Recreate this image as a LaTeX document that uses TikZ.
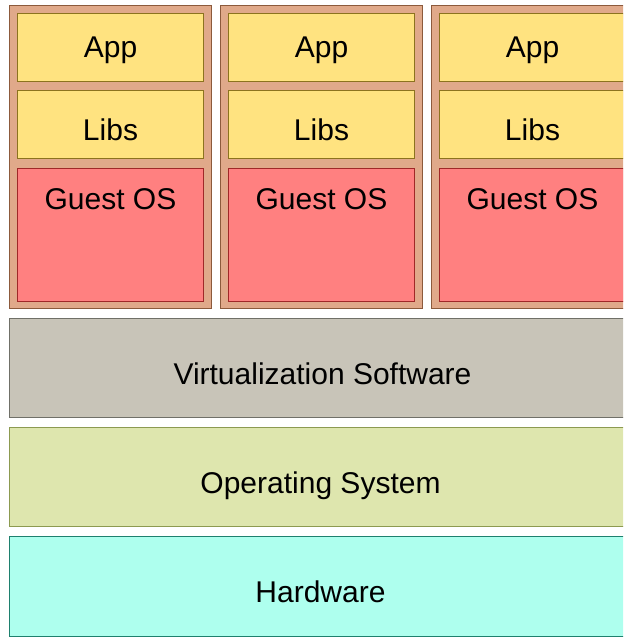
\documentclass[tikz,border=0pt]{standalone}
\usepackage{fontspec}
\setmainfont{Liberation Sans}
\usetikzlibrary{positioning}

\definecolor{vmfill}{RGB}{224,169,138}
\definecolor{vmline}{RGB}{140,90,60}
\definecolor{appfill}{RGB}{255,227,128}
\definecolor{appline}{RGB}{140,115,30}
\definecolor{osfill}{RGB}{255,128,128}
\definecolor{osline}{RGB}{160,40,40}
\definecolor{virtfill}{RGB}{200,196,184}
\definecolor{virtline}{RGB}{112,112,104}
\definecolor{hostfill}{RGB}{222,230,174}
\definecolor{hostline}{RGB}{140,154,80}
\definecolor{hwfill}{RGB}{174,255,238}
\definecolor{hwline}{RGB}{30,128,110}

\tikzset{
	box/.style={rectangle, inner sep=0pt, anchor=north west, line width=0.5pt},
	vmbox/.style={box, fill=vmfill, draw=vmline, minimum width=101pt, minimum height=151.5pt},
	appbox/.style={box, fill=appfill, draw=appline, minimum width=93pt, minimum height=34pt},
	guestbox/.style={box, fill=osfill, draw=osline, minimum width=93pt, minimum height=66.5pt},
	layer/.style={box, minimum width=313pt, minimum height=49.5pt},
	lbl/.style={font=\fontsize{15}{18}\selectfont, anchor=base, inner sep=0pt}
}

\begin{document}
\begin{tikzpicture}[x=0.5pt, y=-0.5pt]
	\useasboundingbox (0,0) rectangle (623,637);
	\clip (0,0) rectangle (623,637);

	% virtual machines
	\foreach \x/\n in {9/a, 220/b, 431/c} {
		\node [vmbox] (vm\n) at (\x,5) {};
		\node [appbox] (app\n) at (\x+8,13) {};
		\node [lbl] at ([yshift=-22pt]app\n.north) {App};
		\node [appbox] (libs\n) at (\x+8,90) {};
		\node [lbl] at ([yshift=-25pt]libs\n.north) {Libs};
		\node [guestbox] (guest\n) at (\x+8,168) {};
		\node [lbl] at ([yshift=-20.5pt]guest\n.north) {Guest OS};
	}

	% host layers
	\node [layer, fill=virtfill, draw=virtline] (virt) at (9,318) {};
	\node [lbl] at ([yshift=-33pt]virt.north) {Virtualization Software};
	\node [layer, fill=hostfill, draw=hostline] (host) at (9,427) {};
	\node [lbl] at ([xshift=-1pt, yshift=-33pt]host.north) {Operating System};
	\node [layer, fill=hwfill, draw=hwline, minimum height=50pt] (hw) at (9,536) {};
	\node [lbl] at ([xshift=-1pt, yshift=-33pt]hw.north) {Hardware};
\end{tikzpicture}
\end{document}
